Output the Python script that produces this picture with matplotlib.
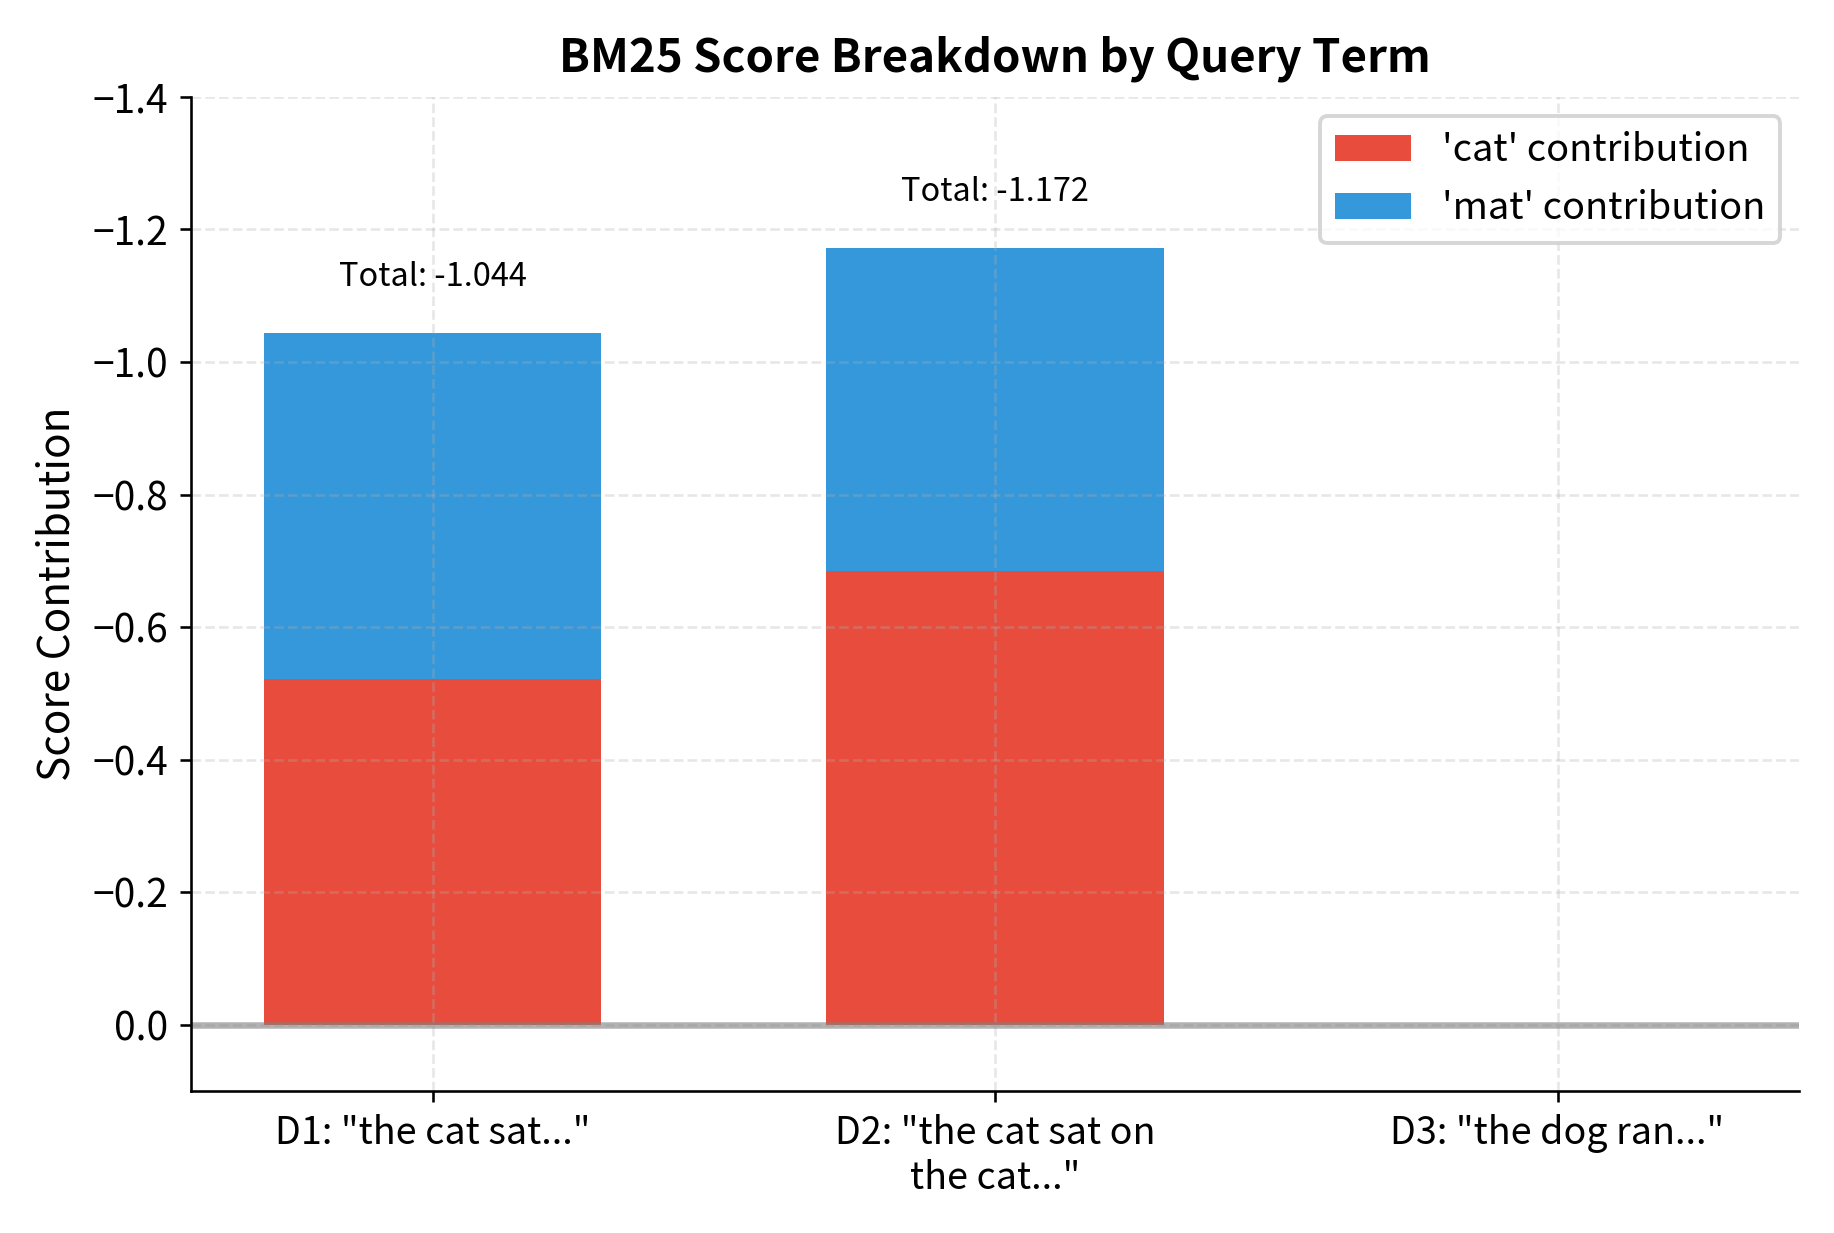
import numpy as np
import matplotlib
matplotlib.use("Agg")
import matplotlib.pyplot as plt

plt.rcParams['font.family'] = ['Noto Sans CJK SC', 'DejaVu Sans']

# data
docs = ['D1: "the cat sat..."', 'D2: "the cat sat on\nthe cat..."', 'D3: "the dog ran..."']
cat_contrib = [-0.522, -0.684, 0.0]
mat_contrib = [-0.522, -0.488, 0.0]
totals = [-1.044, -1.172, 0.0]

x = np.arange(len(docs))
width = 0.6

fig, ax = plt.subplots(figsize=(7.84, 5.27), dpi=234)

ax.bar(x, cat_contrib, width, label="'cat' contribution", color='#e74c3c')
ax.bar(x, mat_contrib, width, bottom=cat_contrib, label="'mat' contribution", color='#3498db')

# total labels above non-empty bars
for i, t in enumerate(totals):
    if t != 0:
        ax.text(x[i], t - 0.06, f'Total: {t:.3f}', ha='center', va='bottom', fontsize=10)

ax.axhline(0, color='gray', linewidth=2, alpha=0.6)

ax.set_xticks(x)
ax.set_xticklabels(docs, fontsize=11.6)
ax.tick_params(axis='y', labelsize=12)
ax.set_ylabel('Score Contribution', fontsize=13)
ax.set_title('BM25 Score Breakdown by Query Term', fontsize=14, fontweight='bold', pad=8)
ax.set_ylim(0.1, -1.4)
leg = ax.legend(fontsize=11.7, loc='upper right')
leg.get_frame().set_linewidth(1.2)
ax.grid(True, linestyle='--', alpha=0.3)
ax.spines['top'].set_visible(False)
ax.spines['right'].set_visible(False)

plt.tight_layout()
plt.savefig('out.png', dpi=234)
